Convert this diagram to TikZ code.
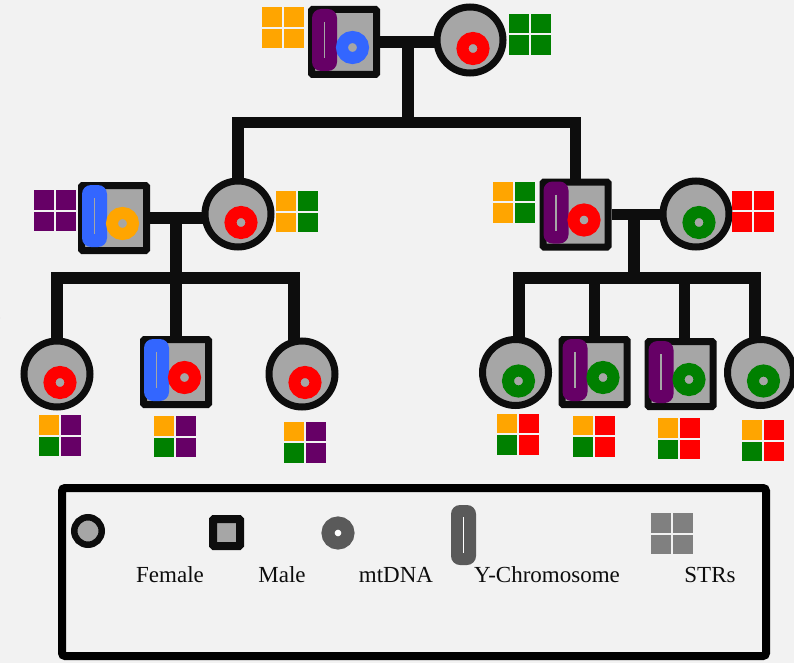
\documentclass[tikz,border=0pt]{standalone}
\usepackage{xcolor}
\usepackage{fontspec}
\setmainfont{Liberation Serif}

\definecolor{ink}{HTML}{0D0D0D}
\definecolor{paper}{HTML}{F2F2F2}
\definecolor{shade}{HTML}{A6A6A6}
\definecolor{ora}{HTML}{FFA500}
\definecolor{grn}{HTML}{008000}
\definecolor{pur}{HTML}{660066}
\definecolor{rd}{HTML}{FF0000}
\definecolor{blu}{HTML}{3366FF}
\definecolor{dgray}{HTML}{5A5A5A}
\definecolor{mgray}{HTML}{808080}

\tikzset{
    female/.style={circle, draw=ink, line width=7pt, fill=shade, minimum size=66pt, inner sep=0pt},
    male/.style={rectangle, rounded corners=1pt, draw=ink, line width=7pt, fill=shade, minimum size=65pt, inner sep=0pt},
    ychr/.style={rectangle, rounded corners=9pt, minimum width=25pt, minimum height=62pt, inner sep=0pt},
    ybar/.style={draw=shade, line width=1.5pt},
    mt/.style={circle, line width=12pt, fill=shade, minimum size=21pt, inner sep=0pt},
    strsq/.style={rectangle, minimum width=20pt, minimum height=19.5pt, inner sep=0pt},
    link/.style={draw=ink, line width=11.5pt},
    frame/.style={draw=black, line width=8pt, rounded corners=3pt},
    lbl/.style={anchor=base, text=ink, font=\fontsize{23}{27}\selectfont}
}

% male: name, position, Y colour, mtDNA colour
\newcommand{\malenode}[4]{%
    \begin{scope}[shift={(#2)}]
        \node[male] (#1) at (0,0) {};
        \node[ychr, fill=#3] (#1y) at (-19.5,-2) {};
        \draw[ybar] (-19.5,-20) -- (-19.5,16);
        \node[mt, draw=#4] (#1m) at (8.5,5.5) {};
    \end{scope}}

% female: name, position, mtDNA colour
\newcommand{\femalenode}[3]{%
    \begin{scope}[shift={(#2)}]
        \node[female] (#1) at (0,0) {};
        \node[mt, draw=#3] (#1m) at (3,8.5) {};
    \end{scope}}

% STR grid: name, centre, four colours
\newcommand{\strgrid}[6]{%
    \begin{scope}[shift={(#2)}]
        \node[strsq, fill=#3] (#1a) at (-11,-10.75) {};
        \node[strsq, fill=#4] (#1b) at (11,-10.75) {};
        \node[strsq, fill=#5] (#1c) at (-11,10.75) {};
        \node[strsq, fill=#6] (#1d) at (11,10.75) {};
    \end{scope}}

\begin{document}
\begin{tikzpicture}[x=1pt, y=-1pt]
    \useasboundingbox (0,0) rectangle (794,663);
    \clip (0,0) rectangle (794,663);
    \fill[paper] (0,0) rectangle (794,663);

    % generation 1
    \malenode{M1}{344,42}{pur}{blu}
    \femalenode{F1}{470,40}{rd}
    \strgrid{G1}{283,28}{ora}{ora}{ora}{ora}
    \strgrid{H1}{530,34.5}{grn}{grn}{grn}{grn}

    % generation 2
    \malenode{M2}{114,218}{blu}{ora}
    \femalenode{F2}{238,214}{rd}
    \strgrid{G2}{54.5,210.5}{pur}{pur}{pur}{pur}
    \strgrid{H2}{297,211.5}{ora}{grn}{ora}{grn}

    \malenode{M3}{575.5,214.5}{pur}{rd}
    \femalenode{F3}{696,214}{grn}
    \strgrid{G3}{514,202}{ora}{grn}{ora}{grn}
    \strgrid{H3}{753,211}{rd}{rd}{rd}{rd}

    % generation 3
    \femalenode{F4}{57,374}{rd}
    \malenode{M4}{176,372}{blu}{rd}
    \femalenode{F5}{302,374}{rd}
    \strgrid{G4}{60,435.5}{ora}{pur}{grn}{pur}
    \strgrid{G5}{175,436.5}{ora}{pur}{grn}{pur}
    \strgrid{G6}{305,442}{ora}{pur}{grn}{pur}

    \femalenode{F6}{515.5,372.5}{grn}
    \malenode{M5}{594.5,372}{pur}{grn}
    \malenode{M6}{680.5,374}{pur}{grn}
    \femalenode{F7}{760.5,372.5}{grn}
    \strgrid{G7}{518,434}{ora}{rd}{grn}{rd}
    \strgrid{G8}{594,436}{ora}{rd}{grn}{rd}
    \strgrid{G9}{679,438.5}{ora}{rd}{grn}{rd}
    \strgrid{G10}{763,440.5}{ora}{rd}{grn}{rd}

    \node[female] (F0) at (-36.5,318) {};

    % couples and descent lines
    \coordinate (c1) at (408,42);
    \coordinate (s1) at (408,122.5);
    \coordinate (c2) at (176,218);
    \coordinate (s2) at (176,278);
    \coordinate (c3) at (634,214.5);
    \coordinate (s3) at (634,278);

    \draw[link, shorten >=-3pt] (M1.east) -- (M1.east -| F1.west);
    \draw[link] (c1) -- (s1);
    \draw[link] (F2.north) |- (s1) -| (M3.north);

    \draw[link, shorten >=-3pt] (M2.east) -- (M2.east -| F2.west);
    \draw[link] (c2) -- (M4.north);
    \draw[link, shorten <=-2pt, shorten >=-2pt] (F4.north) |- (s2) -| ([xshift=-8pt]F5.north);

    \draw[link, shorten >=-3pt] (M3.east) -- (M3.east -| F3.west);
    \draw[link] (c3) -- (s3);
    \draw[link, shorten <=-2pt, shorten >=-2pt] ([xshift=3.5pt]F6.north) |- (s3) -| ([xshift=-5.5pt]F7.north);
    \draw[link] (M5.north |- s3) -- (M5.north);
    \draw[link] ([xshift=4pt]M6.north |- s3) -- ([xshift=4pt]M6.north);

    % legend
    \draw[frame] (62,488) rectangle (766,656);
    \node[female, minimum size=27.5pt, line width=6.5pt] (lf) at (88,531) {};
    \node[male, minimum size=27pt, line width=8pt] (lm) at (226.5,532.5) {};
    \node[mt, draw=dgray, fill=white, line width=13pt, minimum size=20pt] (lmt) at (338,533) {};
    \node[ychr, fill=dgray, minimum height=60pt] (ly) at (463.5,535) {};
    \draw[ybar, draw=white] (463.5,517) -- (463.5,553);
    \strgrid{ls}{672,533.5}{mgray}{mgray}{mgray}{mgray}

    \node[lbl] (tf) at (170,582) {Female};
    \node[lbl] (tm) at (282,582) {Male};
    \node[lbl] (tmt) at (396,582) {mtDNA};
    \node[lbl] (ty) at (547,582) {Y-Chromosome};
    \node[lbl] (ts) at (710,582) {STRs};
\end{tikzpicture}
\end{document}
